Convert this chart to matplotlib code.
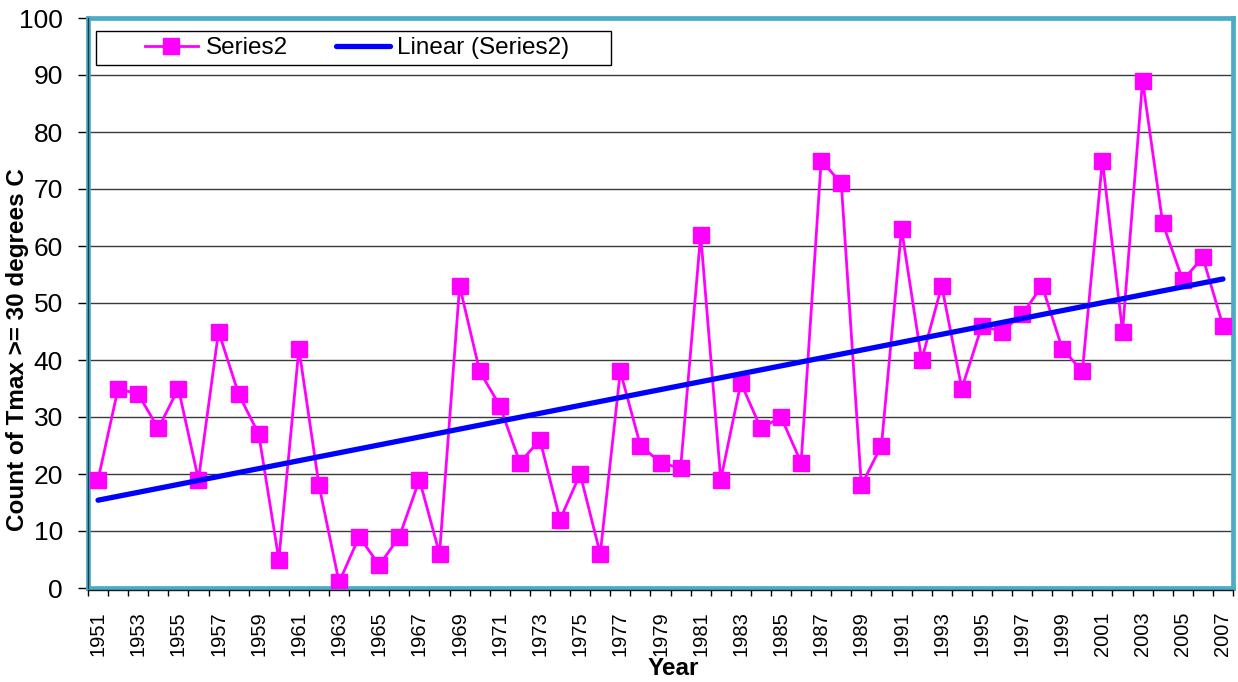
import numpy as np
import matplotlib
matplotlib.use("Agg")
import matplotlib.pyplot as plt
from matplotlib.patches import Rectangle
from matplotlib.ticker import FixedLocator, NullFormatter

plt.rcParams['font.family'] = ['Liberation Sans', 'DejaVu Sans']

years = list(range(1951, 2008))
counts = [19, 35, 34, 28, 35, 19, 45, 34, 27, 5,
          42, 18, 1, 9, 4, 9, 19, 6, 53, 38,
          32, 22, 26, 12, 20, 6, 38, 25, 22, 21,
          62, 19, 36, 28, 30, 22, 75, 71, 18, 25,
          63, 40, 53, 35, 46, 45, 48, 53, 42, 38,
          75, 45, 89, 64, 54, 58, 46]
year_labels = [str(y) for y in years[::2]]

x = np.array(years, dtype=float)
y = np.array(counts, dtype=float)
slope, intercept = np.polyfit(x, y, 1)
trend = slope * x + intercept

W, H = 1238, 682
fig = plt.figure(figsize=(W / 100, H / 100), dpi=100)
L, R, T, B = 88, 1233, 18, 588
ax = fig.add_axes([L / W, 1 - B / H, (R - L) / W, (B - T) / H])

ax.plot(x, y, color='#FF00FF', lw=2.0, marker='s', ms=11, mec='#FF00FF',
        mfc='#FF00FF', label='Series2', zorder=3)
ax.plot(x, trend, color='#0000FF', lw=3.8, solid_capstyle='round',
        label='Linear (Series2)', zorder=4)

ax.set_xlim(1950.5, 2007.5)
ax.set_ylim(0, 100)
ax.set_yticks(range(0, 101, 10))
ax.yaxis.grid(True, color='#3a3a3a', lw=1.0)
ax.set_axisbelow(True)

ax.xaxis.set_major_locator(FixedLocator(years[::2]))
ax.set_xticklabels(year_labels, rotation=90, fontsize=14.5)
ax.tick_params(axis='x', which='major', length=0, pad=17)
ax.xaxis.set_minor_locator(FixedLocator(np.arange(1950.5, 2008.0, 1.0)))
ax.xaxis.set_minor_formatter(NullFormatter())
ax.tick_params(axis='x', which='minor', length=6, width=1, color='black', direction='out')
ax.tick_params(axis='y', labelsize=19, length=7, width=1, direction='out', pad=11)

for s in ax.spines.values():
    s.set_color('#4BACC6')
    s.set_linewidth(3.4)

# dark axis lines along the left and bottom edges
ax.plot([0, 0], [0, 1], transform=ax.transAxes, color='#1a3a44', lw=1.0,
        clip_on=False, zorder=6)
ax.plot([0, 1], [-0.004, -0.004], transform=ax.transAxes, color='#1a1a1a', lw=1.0,
        clip_on=False, zorder=6)

ax.set_xlabel('Year', fontsize=17.5, fontweight='bold', va='top')
ax.xaxis.set_label_coords((673 - L) / (R - L), (B - 657) / (B - T))
ax.set_ylabel('Count of Tmax >= 30 degrees C', fontsize=17.5, fontweight='bold')
ax.yaxis.set_label_coords((29 - L) / (R - L), (B - 349.5) / (B - T))

# legend box
bx0, bx1, by0, by1 = 96, 611, 31, 65
to_ax = lambda px, py: ((px - L) / (R - L), (B - py) / (B - T))
(ax0, ay1), (ax1, ay0) = to_ax(bx0, by0), to_ax(bx1, by1)
ax.add_patch(Rectangle((ax0, ay0), ax1 - ax0, ay1 - ay0, transform=ax.transAxes,
                       facecolor='white', edgecolor='black', lw=1.0, zorder=7))
leg = ax.legend(loc='center', bbox_to_anchor=((ax0 + ax1) / 2 + 0.003, (ay0 + ay1) / 2),
                ncol=2, fontsize=17.5, frameon=False, handlelength=2.2,
                columnspacing=2.0, handletextpad=0.3, borderpad=0, borderaxespad=0)
leg.set_zorder(8)

fig.savefig('out.png', dpi=100)
